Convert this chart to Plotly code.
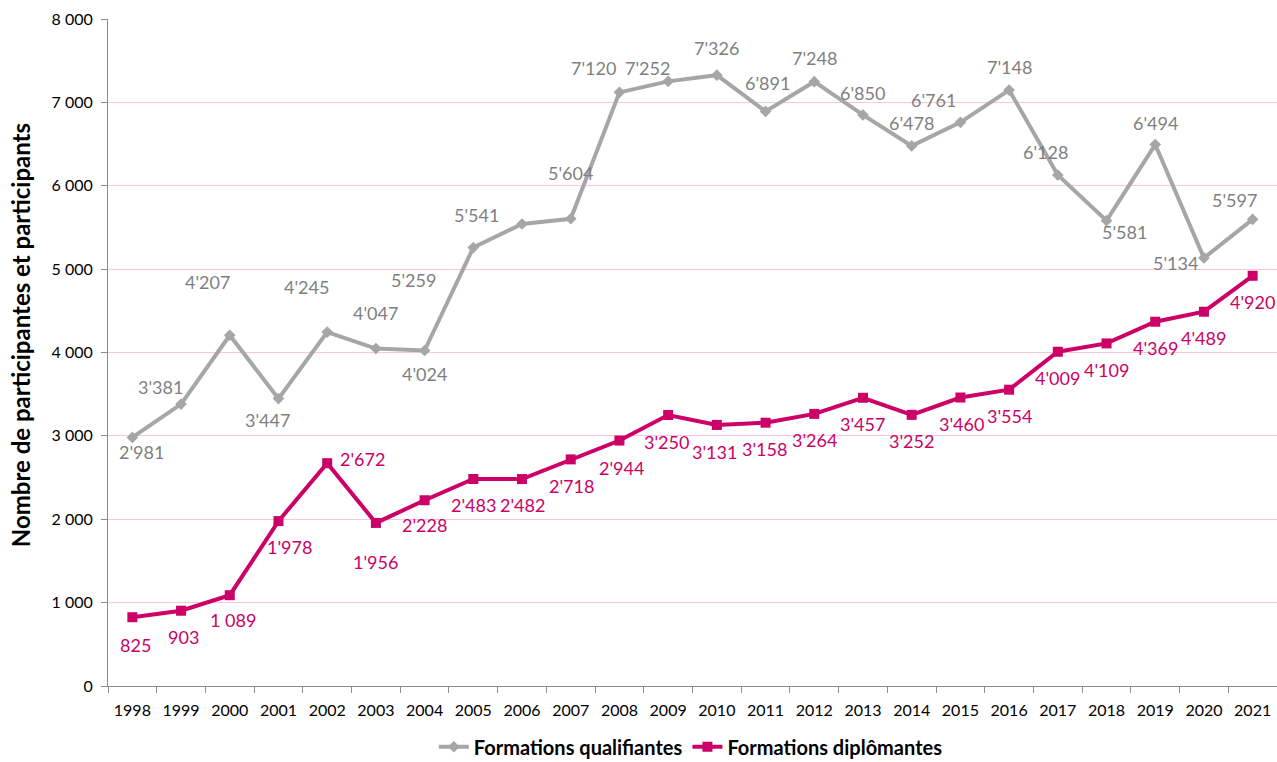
import plotly.graph_objects as go

years = [str(y) for y in range(1998, 2022)]
qualifiantes = [2981, 3381, 4207, 3447, 4245, 4047, 4024, 5259, 5541, 5604, 7120, 7252,
                7326, 6891, 7248, 6850, 6478, 6761, 7148, 6128, 5581, 6494, 5134, 5597]
diplomantes = [825, 903, 1089, 1978, 2672, 1956, 2228, 2483, 2482, 2718, 2944, 3250,
               3131, 3158, 3264, 3457, 3252, 3460, 3554, 4009, 4109, 4369, 4489, 4920]
qual_labels = ["2'981", "3'381", "4'207", "3'447", "4'245", "4'047", "4'024", "5'259", "5'541",
               "5'604", "7'120", "7'252", "7'326", "6'891", "7'248", "6'850", "6'478", "6'761",
               "7'148", "6'128", "5'581", "6'494", "5'134", "5'597"]
dipl_labels = ["825", "903", "1 089", "1'978", "2'672", "1'956", "2'228", "2'483", "2'482",
               "2'718", "2'944", "3'250", "3'131", "3'158", "3'264", "3'457", "3'252", "3'460",
               "3'554", "4'009", "4'109", "4'369", "4'489", "4'920"]
y_ticks = [0, 1000, 2000, 3000, 4000, 5000, 6000, 7000, 8000]
y_ticktext = ["0", "1 000", "2 000", "3 000", "4 000", "5 000", "6 000", "7 000", "8 000"]

# label offsets from their point, in pixels (dx right, dy down)
qual_dx = [9, -21, -22, -11, -21, 0, 0, -60, -46, 0, -26, -21, 0, 2, 0, 0, 0, -27, 0, -12, 18, 0, -28, -18]
qual_dy = [15, -17, -53, 21, -45, -36, 23, 32, -9, -46, -24, -13, -27, -28, -24, -22, -23, -22, -23, -23, 11, -22, 5, -19]
dipl_dx = [3, 2, 3, 11, 35, 0, 0, 0, 0, 1, 2, -2, -2, -1, 0, 0, 0, 1, 0, 0, 0, 0, 0, 0]
dipl_dy = [28, 26, 25, 26, -4, 39, 25, 26, 26, 27, 27, 27, 27, 26, 26, 26, 26, 26, 26, 26, 27, 26, 26, 26]

GRAY = "#A6A6A6"
PINK = "#CC0066"
FONT = "Lato"

fig = go.Figure()
fig.add_trace(go.Scatter(
    x=years, y=qualifiantes, name="Formations qualifiantes",
    mode="lines+markers",
    line=dict(color=GRAY, width=4),
    marker=dict(symbol="diamond", size=9, color=GRAY),
    cliponaxis=False,
))
fig.add_trace(go.Scatter(
    x=years, y=diplomantes, name="Formations diplômantes",
    mode="lines+markers",
    line=dict(color=PINK, width=4),
    marker=dict(symbol="square", size=10, color=PINK),
    cliponaxis=False,
))

annotations = []
for i, (v, t, dx, dy) in enumerate(zip(qualifiantes, qual_labels, qual_dx, qual_dy)):
    annotations.append(dict(x=i, y=v, xref="x", yref="y", text=t, showarrow=False,
                            xshift=dx, yshift=-dy, xanchor="center", yanchor="middle",
                            font=dict(color="#7F7F7F", size=18, family=FONT)))
for i, (v, t, dx, dy) in enumerate(zip(diplomantes, dipl_labels, dipl_dx, dipl_dy)):
    annotations.append(dict(x=i, y=v, xref="x", yref="y", text=t, showarrow=False,
                            xshift=dx, yshift=-dy, xanchor="center", yanchor="middle",
                            font=dict(color=PINK, size=18, family=FONT)))
# y-axis title
annotations.append(dict(text="Nombre de participantes et participants", textangle=-90,
                        xref="paper", yref="paper", x=0, y=0.526, xshift=-88,
                        xanchor="center", yanchor="middle", showarrow=False,
                        font=dict(size=24, family=FONT, color="black", weight="bold")))

fig.update_layout(
    width=1277, height=762,
    margin=dict(l=108, r=0, t=19, b=76),
    plot_bgcolor="white", paper_bgcolor="white",
    font=dict(family=FONT, color="black", size=16),
    showlegend=True,
    annotations=annotations,
    legend=dict(orientation="h", x=0.541, xanchor="center", xref="container",
                y=0.02, yanchor="middle", yref="container",
                font=dict(size=20, family=FONT, color="black", weight="bold"),
                tracegroupgap=0),
    xaxis=dict(type="category", showgrid=False, showline=True, linecolor="#8C8C8C",
               linewidth=1, ticks="outside", ticklen=6, tickcolor="#8C8C8C",
               tickson="boundaries", tickfont=dict(size=16, color="black"),
               ticklabelstandoff=10, automargin=False,
               range=[-0.5, 23.5]),
    yaxis=dict(range=[0, 8000], tickvals=y_ticks, ticktext=y_ticktext,
               showgrid=True, gridcolor="#FBC6DA", gridwidth=1,
               showline=True, linecolor="#8C8C8C", linewidth=1,
               ticks="outside", ticklen=6, tickcolor="#8C8C8C",
               tickfont=dict(size=16, color="black"), zeroline=False,
               ticklabelstandoff=5, automargin=False),
)

fig.write_html("out.html", config={"displayModeBar": False},
               post_script="document.body.style.margin='0';")
